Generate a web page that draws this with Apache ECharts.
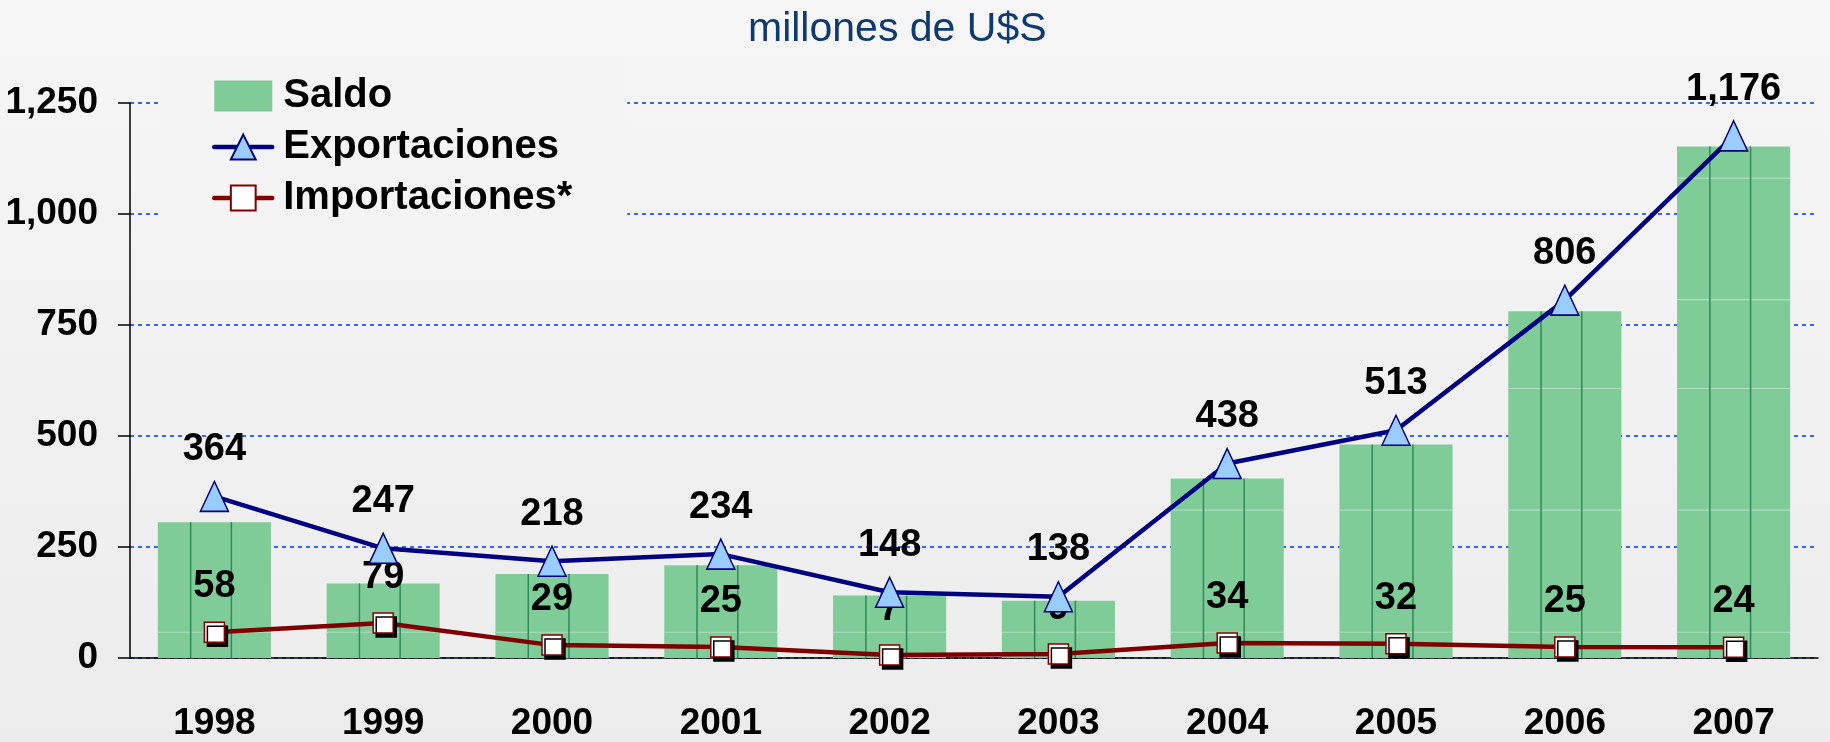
<!DOCTYPE html>
<html>
<head>
<meta charset="utf-8">
<script src="https://cdn.jsdelivr.net/npm/echarts@6/dist/echarts.min.js"></script>
<style>
html,body{margin:0;padding:0;}
#chart{width:1830px;height:742px;}
</style>
</head>
<body>
<div id="chart"></div>
<script>
var years = ['1998','1999','2000','2001','2002','2003','2004','2005','2006','2007'];
var exportaciones = [364, 247, 218, 234, 148, 138, 438, 513, 806, 1176];
var importaciones = [58, 79, 29, 25, 7, 9, 34, 32, 25, 24];
var saldo = [306, 168, 189, 209, 141, 129, 404, 481, 781, 1152];
var yTicks = [0, 250, 500, 750, 1000, 1250];
// faint horizontal texture lines seen inside the bars (axis values)
var barTexture = [58, 333, 607, 807, 1081];

var numFont = "'Liberation Sans Narrow','Arial Narrow','Liberation Sans',Arial,sans-serif";
var txtFont = "'Liberation Sans',Arial,sans-serif";
function fmt(v){ return Number(v).toLocaleString('en-US'); }

var chart = echarts.init(document.getElementById('chart'));

chart.setOption({
  backgroundColor: new echarts.graphic.LinearGradient(0, 0, 0, 1, [
    {offset: 0, color: '#f6f6f6'}, {offset: 1, color: '#ececec'}
  ]),
  animation: false,
  title: {
    text: 'millones de U$S',
    left: 743, top: 4,
    textStyle: {color: '#0e3a70', fontFamily: txtFont, fontWeight: 'normal', fontSize: 41}
  },
  legend: {
    orient: 'vertical',
    left: 160, top: 56,
    padding: [20, 55, 16, 52],
    backgroundColor: '#f4f4f4',
    itemWidth: 58, itemHeight: 31, itemGap: 11,
    lineStyle: {width: 4.5, cap: 'round'},
    textStyle: {fontFamily: txtFont, fontWeight: 'bold', fontSize: 40, color: '#000', padding: [0, 0, 0, 6]},
    data: [
      {name: 'Saldo', icon: 'rect', itemStyle: {color: '#80cc99'}},
      {name: 'Exportaciones'},
      {name: 'Importaciones*'}
    ]
  },
  grid: {left: 130, right: 12, top: 103, bottom: 79, containLabel: false},
  xAxis: {
    type: 'category',
    data: years,
    axisLine: {lineStyle: {color: '#000', width: 1.5}},
    axisTick: {show: false},
    axisLabel: {margin: 47, color: '#000', fontFamily: numFont, fontWeight: 'bold', fontSize: 37}
  },
  yAxis: {
    type: 'value',
    min: yTicks[0], max: yTicks[yTicks.length - 1], interval: 250,
    axisLine: {show: true, lineStyle: {color: '#000', width: 1.5}},
    axisTick: {show: true, length: 12, lineStyle: {color: '#000', width: 1.5}},
    axisLabel: {margin: 32, color: '#000', fontFamily: numFont, fontWeight: 'bold', fontSize: 37, formatter: fmt},
    splitLine: {lineStyle: {color: '#3366ff', width: 2, type: [4, 4]}}
  },
  series: [
    {
      name: 'Saldo',
      type: 'custom',
      data: saldo,
      z: 2,
      renderItem: function(params, api){
        var i = api.value(0);
        var v = api.value(1);
        var top = api.coord([i, v]);
        var base = api.coord([i, 0]);
        var band = api.size([1, 0])[0];
        var w = band * 0.67;
        var x0 = top[0] - w / 2;
        var h = base[1] - top[1];
        var children = [
          {type: 'rect', shape: {x: x0, y: top[1], width: w, height: h}, style: {fill: '#80cc99'}}
        ];
        barTexture.forEach(function(t){
          if (t < v) {
            var y = api.coord([i, t])[1];
            children.push({type: 'line', shape: {x1: x0, y1: y, x2: x0 + w, y2: y}, style: {stroke: '#aee0bd', lineWidth: 1.2}});
          }
        });
        children.push({type: 'line', shape: {x1: x0 + w * 0.29, y1: top[1], x2: x0 + w * 0.29, y2: base[1]}, style: {stroke: '#2e8b57', lineWidth: 1.5}});
        children.push({type: 'line', shape: {x1: x0 + w * 0.65, y1: top[1], x2: x0 + w * 0.65, y2: base[1]}, style: {stroke: '#2e8b57', lineWidth: 1.5}});
        return {type: 'group', children: children};
      },
      encode: {x: 0, y: 1}
    },
    {
      name: 'Exportaciones',
      type: 'line',
      data: exportaciones,
      z: 4,
      symbol: 'triangle',
      symbolSize: [28, 30],
      lineStyle: {color: '#000080', width: 4.5},
      itemStyle: {color: '#99ccff', borderColor: '#000080', borderWidth: 1.5},
      label: {
        show: true, position: 'top', distance: 12,
        color: '#000', fontFamily: numFont, fontWeight: 'bold', fontSize: 38,
        formatter: function(p){ return fmt(p.value); }
      }
    },
    {
      name: 'Importaciones*',
      type: 'line',
      data: importaciones,
      z: 3,
      symbol: 'rect',
      symbolSize: 20,
      lineStyle: {color: '#800000', width: 4.5},
      itemStyle: {color: '#ffffff', borderColor: '#800000', borderWidth: 1.5,
        shadowColor: '#000', shadowBlur: 0, shadowOffsetX: 3, shadowOffsetY: 4},
      label: {
        show: true, position: 'top', distance: 16,
        color: '#000', fontFamily: numFont, fontWeight: 'bold', fontSize: 38
      }
    }
  ]
});
</script>
</body>
</html>
